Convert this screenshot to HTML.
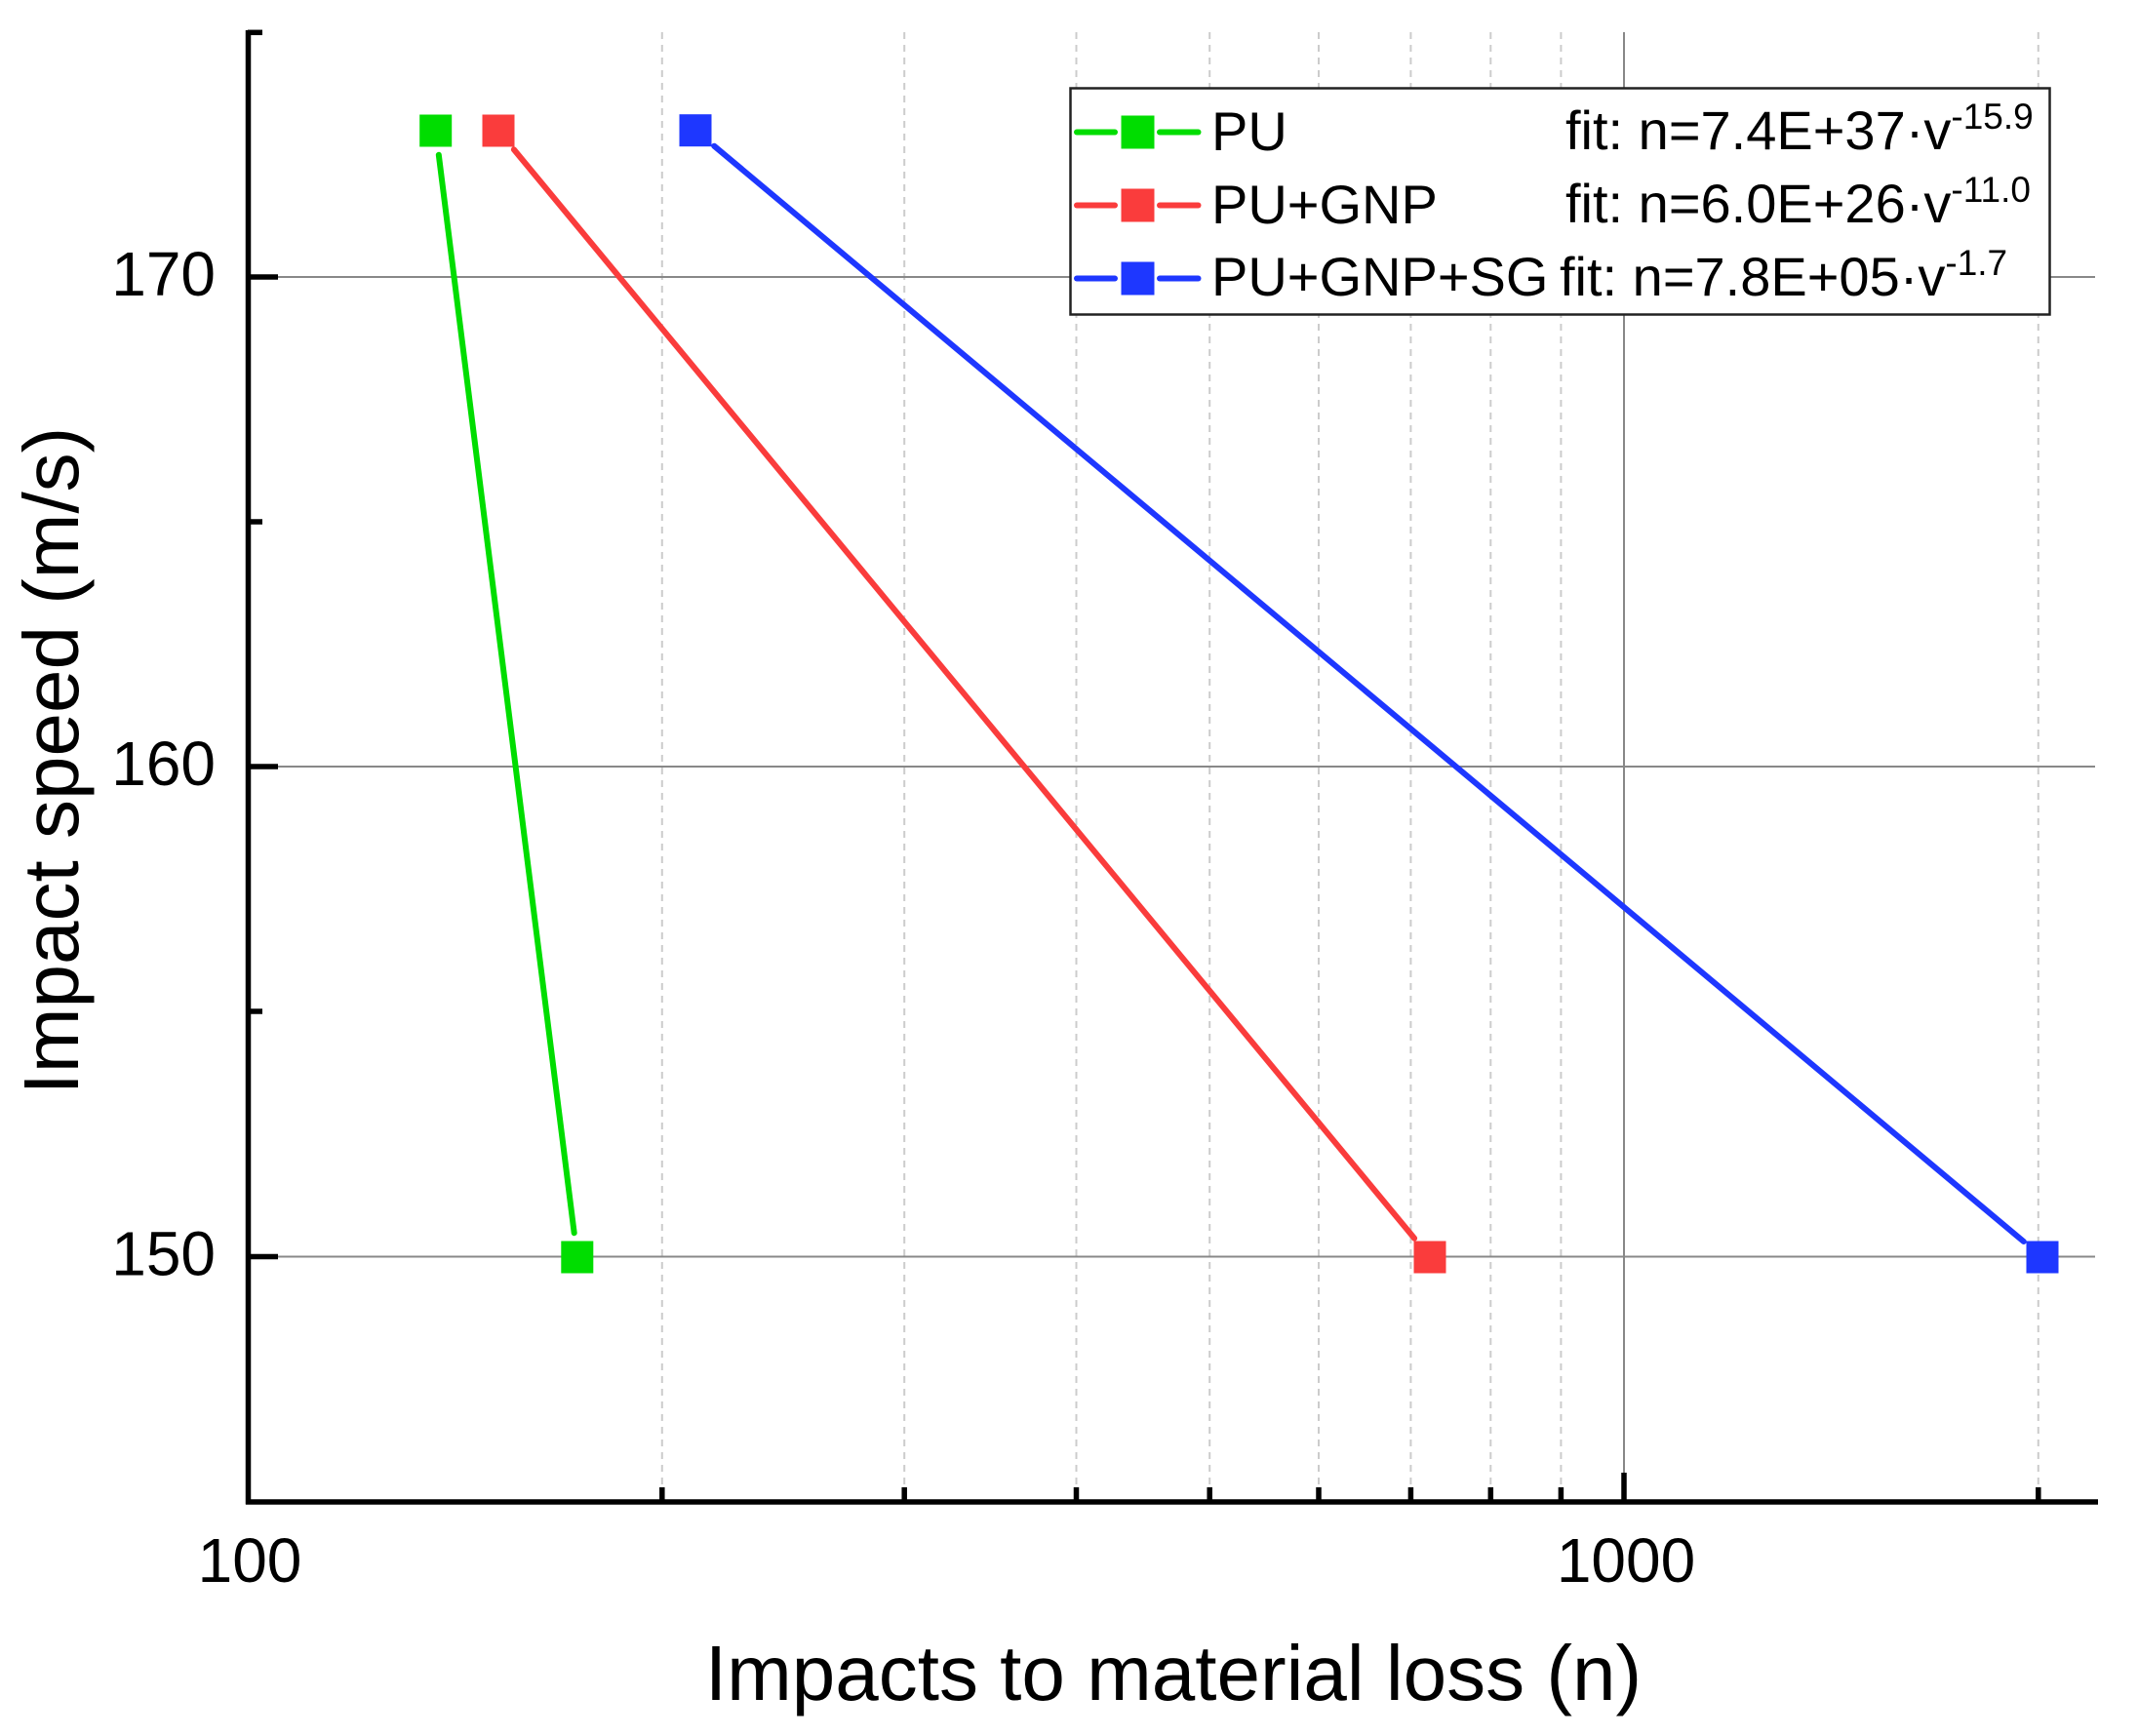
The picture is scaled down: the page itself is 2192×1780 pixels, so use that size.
<!DOCTYPE html>
<html>
<head>
<meta charset="utf-8">
<style>
  html, body { margin: 0; padding: 0; background: #ffffff; }
  svg { display: block; }
  text { font-family: "Liberation Sans", Arial, sans-serif; fill: #000; }
</style>
</head>
<body>
<svg width="2192" height="1780" viewBox="0 0 2192 1780" xmlns="http://www.w3.org/2000/svg">
  <rect x="0" y="0" width="2192" height="1780" fill="#ffffff"/>

  <!-- dashed minor vertical gridlines -->
  <g stroke="#cccccc" stroke-width="2" stroke-dasharray="7 6" fill="none">
    <line x1="678.8" y1="33" x2="678.8" y2="1537"/>
    <line x1="927.2" y1="33" x2="927.2" y2="1537"/>
    <line x1="1103.5" y1="33" x2="1103.5" y2="1537"/>
    <line x1="1240.2" y1="33" x2="1240.2" y2="1537"/>
    <line x1="1352.0" y1="33" x2="1352.0" y2="1537"/>
    <line x1="1446.4" y1="33" x2="1446.4" y2="1537"/>
    <line x1="1528.3" y1="33" x2="1528.3" y2="1537"/>
    <line x1="1600.4" y1="33" x2="1600.4" y2="1537"/>
    <line x1="2089.8" y1="33" x2="2089.8" y2="1537"/>
  </g>

  <!-- solid major gridlines -->
  <g stroke="#888888" stroke-width="2" fill="none">
    <line x1="1665" y1="33" x2="1665" y2="1537"/>
    <line x1="257" y1="284" x2="2148" y2="284"/>
    <line x1="257" y1="786" x2="2148" y2="786"/>
    <line x1="257" y1="1288.5" x2="2148" y2="1288.5"/>
  </g>

  <!-- series lines -->
  <g stroke-width="6" stroke-linecap="round" fill="none">
    <line x1="449.8" y1="158.8" x2="588.7" y2="1264.2" stroke="#00DD00"/>
    <line x1="526.9" y1="153.3" x2="1450.1" y2="1269.7" stroke="#FA3C3C"/>
    <line x1="732.2" y1="149.7" x2="2074.8" y2="1273" stroke="#1E37FF"/>
  </g>

  <!-- markers -->
  <g>
    <rect x="430.2" y="117.5" width="33" height="33" fill="#00DD00"/>
    <rect x="575.3" y="1272.5" width="33" height="33" fill="#00DD00"/>
    <rect x="494.5" y="117.5" width="33" height="33" fill="#FA3C3C"/>
    <rect x="1449.5" y="1272.5" width="33" height="33" fill="#FA3C3C"/>
    <rect x="696.5" y="117.2" width="33" height="33" fill="#1E37FF"/>
    <rect x="2077.5" y="1272.5" width="33" height="33" fill="#1E37FF"/>
  </g>

  <!-- axes -->
  <g stroke="#000" fill="none">
    <line x1="254.5" y1="31" x2="254.5" y2="1542.5" stroke-width="5.5"/>
    <line x1="252" y1="1540" x2="2151" y2="1540" stroke-width="5.5"/>
    <!-- y major ticks -->
    <line x1="254" y1="284" x2="285" y2="284" stroke-width="5.5"/>
    <line x1="254" y1="786" x2="285" y2="786" stroke-width="5.5"/>
    <line x1="254" y1="1288.5" x2="285" y2="1288.5" stroke-width="5.5"/>
    <!-- y minor ticks -->
    <line x1="254" y1="33.3" x2="269" y2="33.3" stroke-width="5.5"/>
    <line x1="254" y1="535" x2="269" y2="535" stroke-width="5.5"/>
    <line x1="254" y1="1037" x2="269" y2="1037" stroke-width="5.5"/>
    <!-- x major tick -->
    <line x1="1665" y1="1540" x2="1665" y2="1510" stroke-width="5.5"/>
    <!-- x minor ticks -->
    <line x1="678.8" y1="1540" x2="678.8" y2="1525" stroke-width="5.5"/>
    <line x1="927.2" y1="1540" x2="927.2" y2="1525" stroke-width="5.5"/>
    <line x1="1103.5" y1="1540" x2="1103.5" y2="1525" stroke-width="5.5"/>
    <line x1="1240.2" y1="1540" x2="1240.2" y2="1525" stroke-width="5.5"/>
    <line x1="1352.0" y1="1540" x2="1352.0" y2="1525" stroke-width="5.5"/>
    <line x1="1446.4" y1="1540" x2="1446.4" y2="1525" stroke-width="5.5"/>
    <line x1="1528.3" y1="1540" x2="1528.3" y2="1525" stroke-width="5.5"/>
    <line x1="1600.4" y1="1540" x2="1600.4" y2="1525" stroke-width="5.5"/>
    <line x1="2089.8" y1="1540" x2="2089.8" y2="1525" stroke-width="5.5"/>
  </g>

  <!-- tick labels -->
  <g font-size="64">
    <text x="221" y="303" text-anchor="end">170</text>
    <text x="221" y="805" text-anchor="end">160</text>
    <text x="221" y="1307.5" text-anchor="end">150</text>
    <text x="256" y="1622" text-anchor="middle">100</text>
    <text x="1667" y="1622" text-anchor="middle">1000</text>
  </g>

  <!-- axis titles -->
  <text x="1203" y="1743" font-size="80" text-anchor="middle">Impacts to material loss (n)</text>
  <text transform="translate(80,780) rotate(-90)" x="0" y="0" font-size="80" text-anchor="middle">Impact speed (m/s)</text>

  <!-- legend -->
  <rect x="1097.5" y="90.5" width="1004" height="232" fill="#ffffff" stroke="#222222" stroke-width="2.5"/>
  <g stroke-width="6" stroke-linecap="round">
    <line x1="1104" y1="135.5" x2="1143" y2="135.5" stroke="#00DD00"/>
    <line x1="1189" y1="135.5" x2="1228.5" y2="135.5" stroke="#00DD00"/>
    <line x1="1104" y1="210.5" x2="1143" y2="210.5" stroke="#FA3C3C"/>
    <line x1="1189" y1="210.5" x2="1228.5" y2="210.5" stroke="#FA3C3C"/>
    <line x1="1104" y1="285.5" x2="1143" y2="285.5" stroke="#1E37FF"/>
    <line x1="1189" y1="285.5" x2="1228.5" y2="285.5" stroke="#1E37FF"/>
  </g>
  <rect x="1149.5" y="118.5" width="34" height="34" fill="#00DD00"/>
  <rect x="1149.5" y="193.5" width="34" height="34" fill="#FA3C3C"/>
  <rect x="1149.5" y="268.5" width="34" height="34" fill="#1E37FF"/>

  <g font-size="56">
    <text x="1242" y="154">PU</text>
    <text x="1242" y="229">PU+GNP</text>
    <text x="1242" y="303">PU+GNP+SG</text>
    <text x="1605" y="153">fit: n=7.4E+37·v<tspan dy="-21" font-size="37">-15.9</tspan></text>
    <text x="1605" y="228">fit: n=6.0E+26·v<tspan dy="-21" font-size="37">-11.0</tspan></text>
    <text x="1599" y="303">fit: n=7.8E+05·v<tspan dy="-21" font-size="37">-1.7</tspan></text>
  </g>
</svg>
</body>
</html>
